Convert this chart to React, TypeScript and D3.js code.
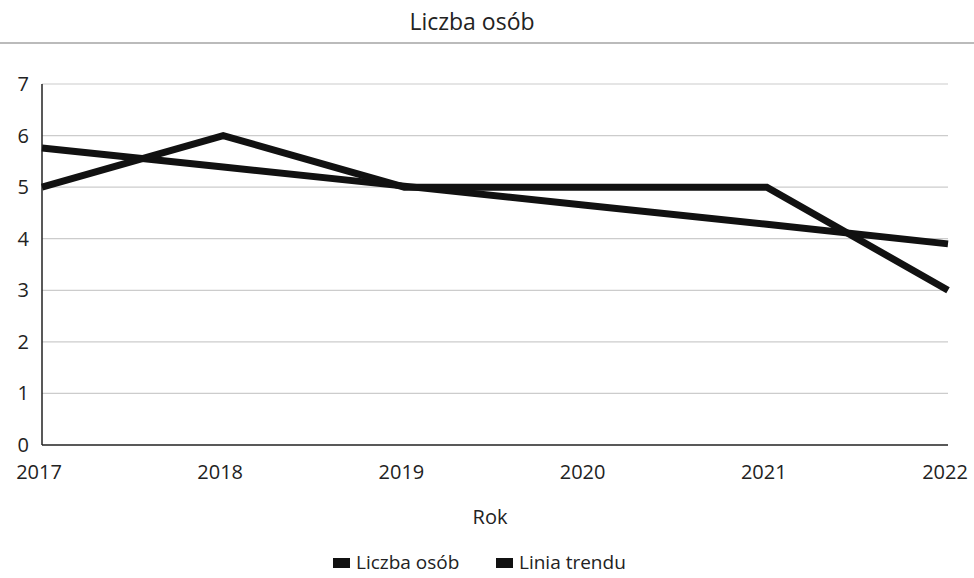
import React from "react";
import * as d3 from "d3";

const years = ["2017", "2018", "2019", "2020", "2021", "2022"];
const liczbaOsob = [5, 6, 5, 5, 5, 3];
const liniaTrendu = [5.76, 5.39, 5.02, 4.65, 4.28, 3.9];
const yTicks = [0, 1, 2, 3, 4, 5, 6, 7];
const legendLabels = ["Liczba osób", "Linia trendu"];

const W = 974;
const H = 578;
const FONT = "'Open Sans', 'Noto Sans', sans-serif";

export default function App() {
  const x = d3.scalePoint<string>().domain(years).range([42, 948]);
  const y = d3.scaleLinear().domain([0, 7]).range([445, 84]);
  const line = d3
    .line<number>()
    .x((_, i) => x(years[i]) as number)
    .y((d) => y(d));

  return (
    <svg
      width={W}
      height={H}
      style={{ position: "absolute", left: 0, top: 0, background: "#fff" }}
      fontFamily={FONT}
    >
      <text x={472} y={30} textAnchor="middle" fontSize={23} fill="#222">
        Liczba osób
      </text>
      <line x1={0} x2={W} y1={43} y2={43} stroke="#bbb" strokeWidth={2} />
      {yTicks.map((t) => (
        <g key={t}>
          {t > 0 && (
            <line x1={42} x2={948} y1={y(t)} y2={y(t)} stroke="#ccc" strokeWidth={1.2} />
          )}
          <text x={29} y={y(t) + 7} textAnchor="end" fontSize={20} fill="#222">
            {t}
          </text>
        </g>
      ))}
      <line x1={42} x2={42} y1={y(7)} y2={y(0)} stroke="#222" strokeWidth={1.5} />
      <line x1={42} x2={948} y1={y(0)} y2={y(0)} stroke="#222" strokeWidth={1.5} />
      {years.map((yr) => (
        <text key={yr} x={(x(yr) as number) - 3} y={479} textAnchor="middle" fontSize={20} fill="#222">
          {yr}
        </text>
      ))}
      <text x={490} y={524} textAnchor="middle" fontSize={20} fill="#222">
        Rok
      </text>
      <path d={line(liniaTrendu) || ""} fill="none" stroke="#111" strokeWidth={7} strokeLinejoin="miter" />
      <path d={line(liczbaOsob) || ""} fill="none" stroke="#111" strokeWidth={7} strokeLinejoin="miter" />
      <g>
        <rect x={333} y={558} width={17} height={10} fill="#111" />
        <text x={356} y={569} fontSize={19} fill="#222">
          {legendLabels[0]}
        </text>
        <rect x={496} y={558} width={17} height={10} fill="#111" />
        <text x={519} y={569} fontSize={19} fill="#222">
          {legendLabels[1]}
        </text>
      </g>
    </svg>
  );
}
